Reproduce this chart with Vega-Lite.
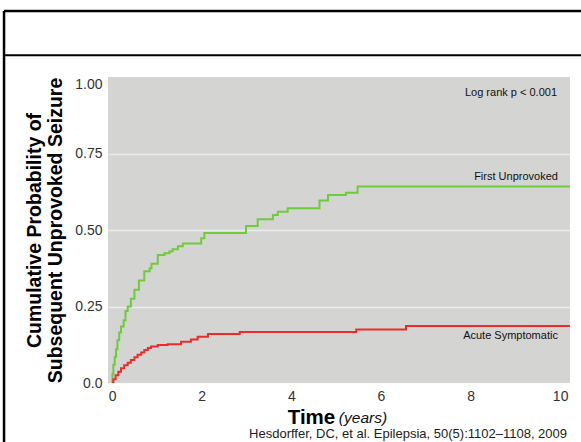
{
  "$schema": "https://vega.github.io/schema/vega-lite/v6.json",
  "width": 462,
  "height": 306,
  "autosize": {"type": "none"},
  "padding": {"left": 108, "top": 77, "right": 11, "bottom": 59},
  "background": "white",
  "config": {"view": {"fill": "#d4d4d2", "stroke": null}, "font": "Liberation Sans"},
  "datasets": {
    "km": [
      {"series": "First Unprovoked", "t": 0, "p": 0},
      {"series": "First Unprovoked", "t": 0.01, "p": 0.03},
      {"series": "First Unprovoked", "t": 0.03, "p": 0.06},
      {"series": "First Unprovoked", "t": 0.06, "p": 0.085},
      {"series": "First Unprovoked", "t": 0.09, "p": 0.11},
      {"series": "First Unprovoked", "t": 0.12, "p": 0.14},
      {"series": "First Unprovoked", "t": 0.16, "p": 0.165},
      {"series": "First Unprovoked", "t": 0.2, "p": 0.185},
      {"series": "First Unprovoked", "t": 0.26, "p": 0.205},
      {"series": "First Unprovoked", "t": 0.3, "p": 0.235},
      {"series": "First Unprovoked", "t": 0.35, "p": 0.25},
      {"series": "First Unprovoked", "t": 0.42, "p": 0.275},
      {"series": "First Unprovoked", "t": 0.5, "p": 0.305},
      {"series": "First Unprovoked", "t": 0.6, "p": 0.335},
      {"series": "First Unprovoked", "t": 0.72, "p": 0.365},
      {"series": "First Unprovoked", "t": 0.84, "p": 0.375},
      {"series": "First Unprovoked", "t": 0.88, "p": 0.39},
      {"series": "First Unprovoked", "t": 1.02, "p": 0.418},
      {"series": "First Unprovoked", "t": 1.17, "p": 0.424},
      {"series": "First Unprovoked", "t": 1.28, "p": 0.43},
      {"series": "First Unprovoked", "t": 1.35, "p": 0.437},
      {"series": "First Unprovoked", "t": 1.47, "p": 0.447},
      {"series": "First Unprovoked", "t": 1.58, "p": 0.456},
      {"series": "First Unprovoked", "t": 1.99, "p": 0.473},
      {"series": "First Unprovoked", "t": 2.06, "p": 0.49},
      {"series": "First Unprovoked", "t": 2.99, "p": 0.513},
      {"series": "First Unprovoked", "t": 3.25, "p": 0.535},
      {"series": "First Unprovoked", "t": 3.59, "p": 0.549},
      {"series": "First Unprovoked", "t": 3.7, "p": 0.56},
      {"series": "First Unprovoked", "t": 3.92, "p": 0.571},
      {"series": "First Unprovoked", "t": 4.63, "p": 0.596},
      {"series": "First Unprovoked", "t": 4.82, "p": 0.614},
      {"series": "First Unprovoked", "t": 5.22, "p": 0.622},
      {"series": "First Unprovoked", "t": 5.48, "p": 0.642},
      {"series": "First Unprovoked", "t": 10.3, "p": 0.642},
      {"series": "Acute Symptomatic", "t": 0, "p": 0},
      {"series": "Acute Symptomatic", "t": 0.03, "p": 0.012},
      {"series": "Acute Symptomatic", "t": 0.08, "p": 0.025},
      {"series": "Acute Symptomatic", "t": 0.14, "p": 0.037},
      {"series": "Acute Symptomatic", "t": 0.2, "p": 0.048},
      {"series": "Acute Symptomatic", "t": 0.27, "p": 0.058},
      {"series": "Acute Symptomatic", "t": 0.35, "p": 0.066},
      {"series": "Acute Symptomatic", "t": 0.42, "p": 0.075},
      {"series": "Acute Symptomatic", "t": 0.5, "p": 0.084},
      {"series": "Acute Symptomatic", "t": 0.57, "p": 0.092},
      {"series": "Acute Symptomatic", "t": 0.65, "p": 0.1},
      {"series": "Acute Symptomatic", "t": 0.72, "p": 0.108},
      {"series": "Acute Symptomatic", "t": 0.8, "p": 0.114},
      {"series": "Acute Symptomatic", "t": 0.87, "p": 0.119},
      {"series": "Acute Symptomatic", "t": 1.02, "p": 0.124},
      {"series": "Acute Symptomatic", "t": 1.24, "p": 0.127},
      {"series": "Acute Symptomatic", "t": 1.54, "p": 0.135},
      {"series": "Acute Symptomatic", "t": 1.76, "p": 0.142},
      {"series": "Acute Symptomatic", "t": 1.91, "p": 0.151},
      {"series": "Acute Symptomatic", "t": 2.14, "p": 0.16},
      {"series": "Acute Symptomatic", "t": 2.85, "p": 0.167},
      {"series": "Acute Symptomatic", "t": 5.45, "p": 0.175},
      {"series": "Acute Symptomatic", "t": 6.56, "p": 0.186},
      {"series": "Acute Symptomatic", "t": 10.3, "p": 0.186}
    ]
  },
  "layer": [
    {
      "data": {"name": "km"},
      "mark": {"type": "line", "interpolate": "step-after", "strokeWidth": 2, "clip": true},
      "encoding": {
        "x": {
          "field": "t", "type": "quantitative",
          "scale": {"domain": [-0.09, 10.22], "nice": false, "zero": false},
          "axis": {
            "values": [0, 2, 4, 6, 8, 10], "grid": false, "ticks": false, "domain": false,
            "labelFlush": false, "labelPadding": 6, "labelFontSize": 14, "labelColor": "#333333",
            "title": "Time", "titleFontSize": 20.5, "titleFontWeight": "bold", "titleColor": "black",
            "titleX": 203, "titleY": 40, "titleBaseline": "alphabetic", "titleAlign": "center"
          }
        },
        "y": {
          "field": "p", "type": "quantitative",
          "scale": {"domain": [0, 1], "nice": false},
          "axis": {
            "values": [0, 0.25, 0.5, 0.75, 1],
            "labelExpr": "datum.value == 0 ? '0.0' : format(datum.value, '.2f')",
            "grid": true, "gridColor": "#ececec", "gridWidth": 1.5,
            "gridOpacity": {"condition": {"test": "datum.value == 0 || datum.value == 1", "value": 0}, "value": 1},
            "ticks": false, "domain": false, "labelPadding": 6, "labelFontSize": 14, "labelColor": "#333333",
            "labelBaseline": {"condition": {"test": "datum.value == 1", "value": "top"}, "value": "middle"},
            "title": ["Cumulative Probability of", "Subsequent Unprovoked Seizure"],
            "titleFontSize": 19.5, "titleFontWeight": "bold", "titleColor": "black",
            "titleLineHeight": 21, "titleAngle": -90, "titleBaseline": "middle",
            "titleX": -74, "titleY": 153, "titleAlign": "center"
          }
        },
        "color": {
          "field": "series", "type": "nominal",
          "scale": {"domain": ["First Unprovoked", "Acute Symptomatic"], "range": ["#6dcc3a", "#ee2b2b"]},
          "legend": null
        }
      }
    },
    {
      "data": {"values": [{"label": "Log rank p < 0.001"}]},
      "mark": {"type": "text", "align": "right", "baseline": "middle", "fontSize": 11, "color": "#111111"},
      "encoding": {"x": {"datum": 9.93, "type": "quantitative"}, "y": {"datum": 0.949, "type": "quantitative"}, "text": {"field": "label"}}
    },
    {
      "data": {"values": [{"label": "First Unprovoked"}]},
      "mark": {"type": "text", "align": "right", "baseline": "middle", "fontSize": 11, "color": "#111111"},
      "encoding": {"x": {"datum": 9.95, "type": "quantitative"}, "y": {"datum": 0.673, "type": "quantitative"}, "text": {"field": "label"}}
    },
    {
      "data": {"values": [{"label": "Acute Symptomatic"}]},
      "mark": {"type": "text", "align": "right", "baseline": "middle", "fontSize": 11, "color": "#111111"},
      "encoding": {"x": {"datum": 9.95, "type": "quantitative"}, "y": {"datum": 0.154, "type": "quantitative"}, "text": {"field": "label"}}
    },
    {
      "data": {"values": [{"label": "(years)"}]},
      "mark": {"type": "text", "align": "center", "baseline": "alphabetic", "fontSize": 15.5, "fontStyle": "italic", "color": "#111111"},
      "encoding": {"x": {"datum": 5.6, "type": "quantitative"}, "y": {"datum": -0.1307, "type": "quantitative"}, "text": {"field": "label"}}
    },
    {
      "data": {"values": [{"label": "Hesdorffer, DC, et al. Epilepsia, 50(5):1102–1108, 2009"}]},
      "mark": {"type": "text", "align": "right", "baseline": "alphabetic", "fontSize": 13, "color": "#222222"},
      "encoding": {"x": {"datum": 10.154, "type": "quantitative"}, "y": {"datum": -0.1797, "type": "quantitative"}, "text": {"field": "label"}}
    },
    {
      "data": {"values": [{"edge": "top"}]},
      "mark": {"type": "rule", "color": "black", "strokeWidth": 2.5},
      "encoding": {"x": {"datum": -2.41, "type": "quantitative"}, "x2": {"datum": 11.5}, "y": {"datum": 1.2157, "type": "quantitative"}}
    },
    {
      "data": {"values": [{"edge": "divider"}]},
      "mark": {"type": "rule", "color": "black", "strokeWidth": 2},
      "encoding": {"x": {"datum": -2.41, "type": "quantitative"}, "x2": {"datum": 11.5}, "y": {"datum": 1.0712, "type": "quantitative"}}
    },
    {
      "data": {"values": [{"edge": "left"}]},
      "mark": {"type": "rule", "color": "black", "strokeWidth": 2.5},
      "encoding": {"x": {"datum": -2.41, "type": "quantitative"}, "y": {"datum": 1.2157, "type": "quantitative"}, "y2": {"datum": -0.3}}
    }
  ]
}
